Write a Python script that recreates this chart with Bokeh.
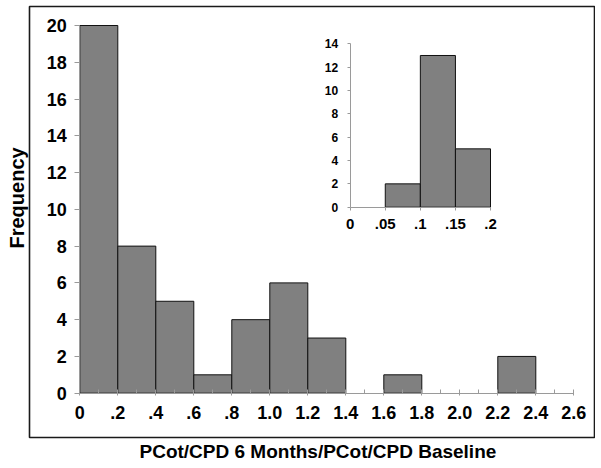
from bokeh.plotting import figure
from bokeh.models import LinearAxis, FixedTicker, Range1d, Title
from bokeh.embed import file_html
from bokeh.resources import INLINE

# ---- data ----
main_left = [0.0, 0.2, 0.4, 0.6, 0.8, 1.0, 1.2, 1.4, 1.6, 1.8, 2.0, 2.2]
main_right = [0.2, 0.4, 0.6, 0.8, 1.0, 1.2, 1.4, 1.6, 1.8, 2.0, 2.2, 2.4]
main_counts = [20, 8, 5, 1, 4, 6, 3, 0, 1, 0, 0, 2]
main_x_ticks = [0, 0.2, 0.4, 0.6, 0.8, 1.0, 1.2, 1.4, 1.6, 1.8, 2.0, 2.2, 2.4, 2.6]
main_x_minor = [0.1, 0.3, 0.5, 0.7, 0.9, 1.1, 1.3, 1.5, 1.7, 1.9, 2.1, 2.3, 2.5]
main_x_labels = ["0", ".2", ".4", ".6", ".8", "1.0", "1.2", "1.4", "1.6", "1.8", "2.0", "2.2", "2.4", "2.6"]
main_y_ticks = [0, 2, 4, 6, 8, 10, 12, 14, 16, 18, 20]

inset_left = [0.0, 0.05, 0.1, 0.15]
inset_right = [0.05, 0.1, 0.15, 0.2]
inset_counts = [0, 2, 13, 5]
inset_x_ticks = [0, 0.05, 0.1, 0.15, 0.2]
inset_x_labels = ["0", ".05", ".1", ".15", ".2"]
inset_y_ticks = [0, 2, 4, 6, 8, 10, 12, 14]

x_title = "PCot/CPD 6 Months/PCot/CPD Baseline"
y_title = "Frequency"

# ---- layout constants (pixels) ----
FW, FH = 566, 431
M_X0, M_XS = 50.3, 190.0     # main x=0 offset from frame left, px per unit
M_Y0, M_YS = 44.3, 18.385    # main y=0 offset from frame bottom, px per unit
I_X0, I_XS = 320.7, 701.5
I_Y0, I_YS = 230.3, 11.67

FONT = "Liberation Sans"
AXIS_GRAY = "#9a9a9a"

xr = Range1d(-M_X0 / M_XS, (FW - M_X0) / M_XS)
yr = Range1d(-M_Y0 / M_YS, (FH - M_Y0) / M_YS)

p = figure(frame_width=FW, frame_height=FH, x_range=xr, y_range=yr,
           output_backend="svg", toolbar_location=None,
           x_axis_location=None, y_axis_location=None,
           min_border_left=29, min_border_right=0, min_border_top=6, min_border_bottom=31,
           outline_line_color="#1a1a1a", outline_line_width=1.6)
p.grid.visible = False

p.extra_x_ranges = {"inset": Range1d(-I_X0 / I_XS, (FW - I_X0) / I_XS)}
p.extra_y_ranges = {"inset": Range1d(-I_Y0 / I_YS, (FH - I_Y0) / I_YS)}

def style_axis(ax, size):
    ax.axis_line_color = AXIS_GRAY
    ax.major_tick_line_color = AXIS_GRAY
    ax.minor_tick_line_color = AXIS_GRAY
    ax.major_label_text_font = FONT
    ax.major_label_text_font_style = "bold"
    ax.major_label_text_font_size = size
    ax.major_label_text_color = "black"

# main axes
mx = LinearAxis(fixed_location=0, bounds=(0, 2.6),
                ticker=FixedTicker(ticks=main_x_ticks, minor_ticks=main_x_minor),
                major_label_overrides=dict(zip(main_x_ticks, main_x_labels)))
style_axis(mx, "18px")
mx.major_tick_in = 4
mx.major_tick_out = 2
mx.minor_tick_in = 4
mx.minor_tick_out = 0
mx.major_label_standoff = 11
p.add_layout(mx, "below")

my = LinearAxis(fixed_location=0, bounds=(0, 20),
                ticker=FixedTicker(ticks=main_y_ticks, minor_ticks=[]))
style_axis(my, "18px")
my.major_tick_in = 0
my.major_tick_out = 5
my.major_label_standoff = 8
p.add_layout(my, "left")

# inset axes
ix = LinearAxis(fixed_location=0, bounds=(0, 0.2), x_range_name="inset", y_range_name="inset",
                ticker=FixedTicker(ticks=inset_x_ticks, minor_ticks=[]),
                major_label_overrides=dict(zip(inset_x_ticks, inset_x_labels)))
style_axis(ix, "15px")
ix.major_tick_in = 0
ix.major_tick_out = 3
ix.major_label_standoff = 9
p.add_layout(ix, "below")

iy = LinearAxis(fixed_location=0, bounds=(0, 14), x_range_name="inset", y_range_name="inset",
                ticker=FixedTicker(ticks=inset_y_ticks, minor_ticks=[]))
style_axis(iy, "12px")
iy.major_tick_in = 0
iy.major_tick_out = 3
iy.major_label_standoff = 9
p.add_layout(iy, "left")

# bars
def nz(lst, counts):
    return [v for v, c in zip(lst, counts) if c > 0]

p.quad(left=nz(main_left, main_counts), right=nz(main_right, main_counts),
       top=nz(main_counts, main_counts), bottom=0,
       fill_color="#808080", line_color="#111111", line_width=1)
p.quad(left=nz(inset_left, inset_counts), right=nz(inset_right, inset_counts),
       top=nz(inset_counts, inset_counts), bottom=0,
       fill_color="#808080", line_color="#111111", line_width=1,
       x_range_name="inset", y_range_name="inset")

# titles outside the box
p.add_layout(Title(text=y_title, align="left", offset=189, standoff=2,
                   vertical_align="middle", text_color="black",
                   text_font=FONT, text_font_style="bold", text_font_size="20px"), "left")
p.add_layout(Title(text=x_title, align="left", offset=110, standoff=2,
                   vertical_align="bottom", text_color="black",
                   text_font=FONT, text_font_style="bold", text_font_size="19px"), "below")

open("out.html", "w").write(file_html(p, INLINE))
